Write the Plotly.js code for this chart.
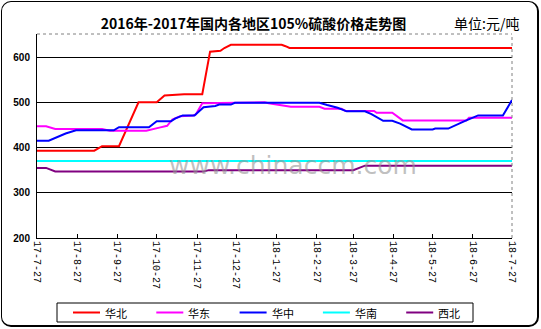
<!DOCTYPE html>
<html>
<head>
<meta charset="utf-8">
<script src="https://cdn.plot.ly/plotly-3.0.1.min.js"></script>
<style>
html,body{margin:0;padding:0;background:#fff;}
#wrap{position:relative;width:541px;height:329px;}
#chart{position:absolute;left:0;top:0;width:541px;height:329px;}
#frame{position:absolute;left:1px;top:1px;width:535px;height:323px;border:1px solid #000;border-right-width:2px;border-bottom-width:2px;border-radius:10px;pointer-events:none;}
</style>
</head>
<body>
<div id="wrap"><div id="chart"></div><div id="frame"></div></div>
<script>
// Series names
const seriesNames = ['华北', '华东', '华中', '华南', '西北'];
const seriesColors = ['#FF0000', '#FF00FF', '#0000FF', '#00FFFF', '#800080'];

// 华北
const northDates = ['2017-07-27','2017-09-09','2017-09-15','2017-09-28','2017-10-13','2017-10-27','2017-11-02','2017-11-17','2017-12-01','2017-12-07','2017-12-15','2017-12-18','2017-12-23','2018-01-31','2018-02-03','2018-02-06','2018-07-27'];
const northValues = [393,393,403,403,500,500,515,518,518,612,614,620,627,627,624,620,620];

// 华东
const eastDates = ['2017-07-27','2017-08-03','2017-08-10','2017-09-15','2017-09-21','2017-10-19','2017-10-29','2017-11-04','2017-11-08','2017-11-14','2017-11-24','2017-11-26','2017-12-01','2017-12-29','2018-01-18','2018-01-21','2018-01-31','2018-02-07','2018-03-01','2018-03-05','2018-03-18','2018-03-21','2018-04-12','2018-04-14','2018-04-26','2018-05-04','2018-06-22','2018-06-24','2018-07-27'];
const eastValues = [447,447,441,441,437,437,444,448,462,469,471,473,498,500,500,498,494,490,490,486,486,481,481,477,477,460,460,466,466];

// 华中
const centralDates = ['2017-07-27','2017-08-05','2017-08-18','2017-08-26','2017-09-24','2017-09-28','2017-10-21','2017-10-27','2017-11-07','2017-11-10','2017-11-16','2017-11-25','2017-12-02','2017-12-11','2017-12-14','2017-12-23','2017-12-26','2018-03-01','2018-03-07','2018-03-15','2018-03-22','2018-04-05','2018-04-10','2018-04-19','2018-04-26','2018-05-02','2018-05-11','2018-05-27','2018-05-29','2018-06-08','2018-06-21','2018-07-01','2018-07-20','2018-07-27'];
const centralValues = [415,415,431,438,438,445,445,458,458,464,471,471,489,492,495,495,499,499,494,488,480,480,474,459,459,453,440,440,442,442,459,471,471,505];

// 华南
const southDates = ['2017-07-27','2018-07-27'];
const southValues = [370,370];

// 西北
const northwestDates = ['2017-07-27','2017-08-03','2017-08-10','2017-12-02','2017-12-06','2018-03-27','2018-04-05','2018-07-27'];
const northwestValues = [355,355,347,347,350,350,360,360];

// Axis ticks
const tickDates = ['2017-07-27','2017-08-27','2017-09-27','2017-10-27','2017-11-27','2017-12-27','2018-01-27','2018-02-27','2018-03-27','2018-04-27','2018-05-27','2018-06-27','2018-07-27'];
const tickLabels = ['17-7-27','17-8-27','17-9-27','17-10-27','17-11-27','17-12-27','18-1-27','18-2-27','18-3-27','18-4-27','18-5-27','18-6-27','18-7-27'];
const yTicks = [200,300,400,500,600];

const titleText = '2016年-2017年国内各地区105%硫酸价格走势图';
const unitText = '单位:元/吨';
const watermarkText = 'www.chinaccm.com';

const xs = [northDates, eastDates, centralDates, southDates, northwestDates];
const ys = [northValues, eastValues, centralValues, southValues, northwestValues];

const traces = seriesNames.map((n, i) => ({
  type: 'scatter', mode: 'lines', name: n,
  x: xs[i], y: ys[i],
  line: {color: seriesColors[i], width: 2},
  hoverinfo: 'skip', showlegend: false
}));

// plot-area geometry (pixels) used to place the custom legend
const M = {l: 37, r: 29, t: 34, b: 91};
const W = 541, H = 329;
const pw = W - M.l - M.r, ph = H - M.t - M.b;
const px = v => (v - M.l) / pw;
const py = v => (H - M.b - v) / ph;

// custom legend (box + line samples + labels)
const leg = {left: 57, right: 473, top: 303, bottom: 322, first: 73, step: 83.3, lineLen: 27, textGap: 30};
const legendShapes = [{type: 'rect', xref: 'paper', yref: 'paper',
  x0: px(leg.left), x1: px(leg.right), y0: py(leg.top), y1: py(leg.bottom),
  line: {color: '#000', width: 1}, fillcolor: '#fff', layer: 'above'}];
const legendAnns = [];
const midY = (leg.top + leg.bottom) / 2;
seriesNames.forEach((n, i) => {
  const x0 = leg.first + i * leg.step;
  legendShapes.push({type: 'line', xref: 'paper', yref: 'paper',
    x0: px(x0), x1: px(x0 + leg.lineLen), y0: py(midY), y1: py(midY),
    line: {color: seriesColors[i], width: 2}, layer: 'above'});
  legendAnns.push({text: n, xref: 'paper', yref: 'paper', x: px(x0 + leg.textGap), y: py(midY),
    xanchor: 'left', yanchor: 'middle', showarrow: false,
    font: {family: 'Noto Sans CJK SC, sans-serif', size: 11, color: '#000'}});
});

const layout = {
  width: W, height: H,
  margin: M,
  paper_bgcolor: '#fff', plot_bgcolor: '#fff',
  showlegend: false,
  font: {family: 'Liberation Sans, Arial, sans-serif', color: '#000'},
  title: {
    text: titleText,
    font: {family: 'Noto Sans CJK SC, sans-serif', size: 14, weight: 'bold', color: '#000'},
    x: 0.4686, xanchor: 'center', xref: 'container',
    y: 0.928, yanchor: 'middle', yref: 'container'
  },
  xaxis: {
    type: 'date',
    range: ['2017-07-27', '2018-07-27'],
    tickmode: 'array', tickvals: tickDates, ticktext: tickLabels,
    tickangle: 90,
    tickfont: {family: 'Liberation Mono, DejaVu Sans Mono, monospace', size: 10, color: '#000'},
    ticks: 'inside', ticklen: 4, tickcolor: '#000', tickwidth: 1,
    showline: true, linecolor: '#000', linewidth: 1,
    showgrid: false, zeroline: false,
    fixedrange: true
  },
  yaxis: {
    range: [200, 651],
    tickmode: 'array', tickvals: yTicks,
    tickfont: {family: 'Liberation Sans, Arial, sans-serif', size: 10, weight: 'bold', color: '#000'},
    showline: true, linecolor: '#000', linewidth: 1,
    showgrid: true, gridcolor: '#000', gridwidth: 1,
    zeroline: false, ticks: '', ticklabelstandoff: 4,
    fixedrange: true
  },
  shapes: [
    {type: 'line', xref: 'paper', yref: 'paper', x0: 0, x1: 1, y0: 1, y1: 1, line: {color: '#808080', width: 1, dash: 'dot'}},
    {type: 'line', xref: 'paper', yref: 'paper', x0: 1, x1: 1, y0: 0, y1: 1, line: {color: '#808080', width: 1, dash: 'dot'}}
  ].concat(legendShapes),
  annotations: [
    {text: unitText, xref: 'paper', yref: 'paper', x: px(452), y: py(23), xanchor: 'left', yanchor: 'middle', showarrow: false,
     font: {family: 'Noto Sans CJK SC, sans-serif', size: 14, color: '#000'}},
    {text: watermarkText, xref: 'paper', yref: 'paper', x: px(293), y: py(166), xanchor: 'center', yanchor: 'middle', showarrow: false,
     font: {family: 'DejaVu Sans, sans-serif', size: 25, color: 'rgba(150,150,150,0.6)'}}
  ].concat(legendAnns)
};

Plotly.newPlot('chart', traces, layout, {displayModeBar: false, staticPlot: true});
</script>
</body>
</html>
